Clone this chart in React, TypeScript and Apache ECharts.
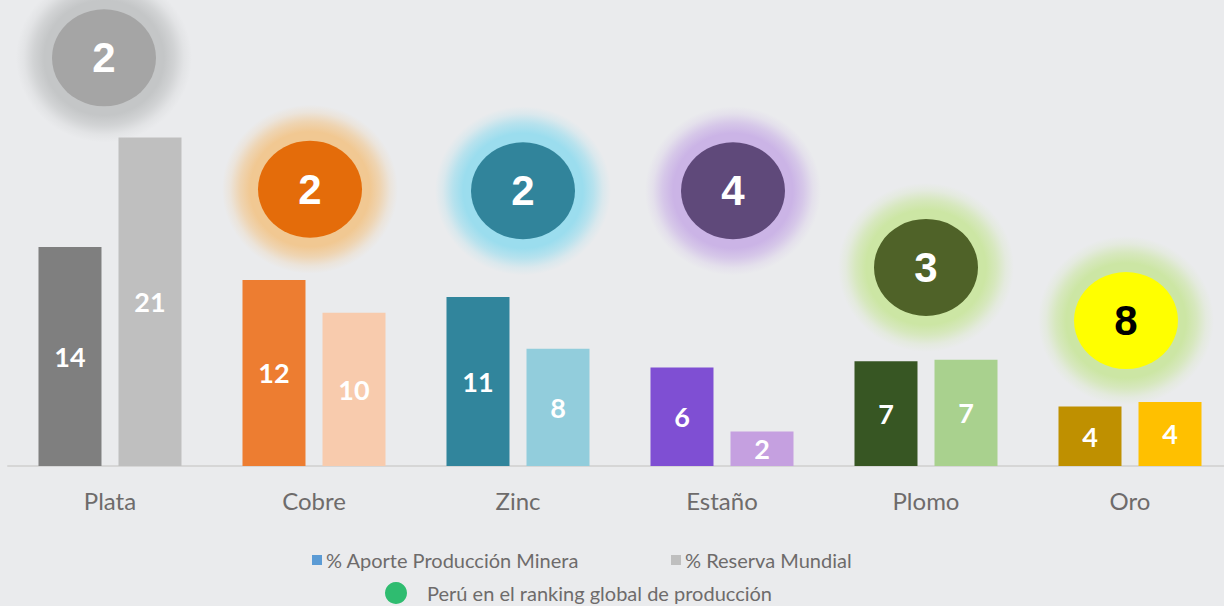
import React, { useEffect, useRef } from "react";
import * as echarts from "echarts";

const categories = ["Plata", "Cobre", "Zinc", "Estaño", "Plomo", "Oro"];
const aporteProduccion = [14.0, 11.9, 10.8, 6.3, 6.7, 3.8];
const reservaMundial = [21.0, 9.8, 7.5, 2.2, 6.8, 4.1];
const rankingGlobal = [2, 2, 2, 4, 3, 8];
const rankingPosition = [26.1, 17.7, 17.6, 17.6, 12.7, 9.3];

const aporteColors = ["#7F7F7F", "#ED7D31", "#31859C", "#7F4FD3", "#375623", "#BF9000"];
const reservaColors = ["#BFBFBF", "#F8CBAD", "#92CDDC", "#C5A0E0", "#A9D18E", "#FFC000"];
const circleColors = ["#A5A5A5", "#E46C0A", "#31849B", "#5F497A", "#4F6228", "#FFFF00"];
const glowRGB = ["196,198,199", "241,200,146", "155,221,238", "203,180,230", "204,230,164", "204,230,164"];
const circleTextColors = ["#FFFFFF", "#FFFFFF", "#FFFFFF", "#FFFFFF", "#FFFFFF", "#000000"];
const circleOffsets = [-6, -4, 5, 11, 0, -4];

const SERIES_A = "% Aporte Producción Minera";
const SERIES_B = "% Reserva Mundial";
const SERIES_C = "Perú en el ranking global de producción";

export default function App() {
  const ref = useRef<HTMLDivElement>(null);

  useEffect(() => {
    if (!ref.current) return;
    const chart = echarts.init(ref.current, null, { renderer: "svg" });
    const barLabel = {
      show: true,
      position: "inside",
      color: "#FFFFFF",
      fontFamily: "Lato",
      fontWeight: "bold",
      fontSize: 27,
      formatter: (p: any) => String(Math.round(p.value)),
    };
    const glowGradient = (rgb: string) => ({
      type: "radial",
      x: 0.5,
      y: 0.5,
      r: 0.5,
      colorStops: [
        { offset: 0, color: `rgba(${rgb},1)` },
        { offset: 0.68, color: `rgba(${rgb},1)` },
        { offset: 0.8, color: `rgba(${rgb},0.65)` },
        { offset: 0.91, color: `rgba(${rgb},0.2)` },
        { offset: 1, color: `rgba(${rgb},0)` },
      ],
    });
    chart.setOption({
      animation: false,
      backgroundColor: "#EAEBED",
      grid: { left: 8, right: 0, top: 0, height: 466, containLabel: false },
      xAxis: {
        type: "category",
        data: categories,
        axisLine: { show: true, lineStyle: { color: "#D6D6D6", width: 2 } },
        axisTick: { show: false },
        axisLabel: {
          color: "#6E6B6B",
          fontSize: 24,
          fontFamily: "Lato",
          margin: 22,
        },
      },
      yAxis: {
        type: "value",
        min: 0,
        max: 29.8,
        show: false,
        splitLine: { show: false },
      },
      legend: [
        {
          data: [SERIES_A, SERIES_B],
          left: 307,
          top: 545,
          itemWidth: 10,
          itemHeight: 10,
          itemGap: 92,
          icon: "rect",
          textStyle: { color: "#6E6B6B", fontSize: 20, fontFamily: "Lato", padding: [0, 0, 0, -1] },
        },
        {
          data: [SERIES_C],
          left: 380,
          top: 577,
          itemWidth: 40,
          itemHeight: 22,
          icon: "circle",
          textStyle: { color: "#6E6B6B", fontSize: 20, fontFamily: "Lato", padding: [0, 0, 0, 6] },
        },
      ],
      series: [
        {
          name: SERIES_A,
          type: "bar",
          barWidth: 63,
          barGap: "27%",
          itemStyle: { color: "#5B9BD5" },
          label: barLabel,
          data: aporteProduccion.map((v, i) => ({ value: v, itemStyle: { color: aporteColors[i] } })),
        },
        {
          name: SERIES_B,
          type: "bar",
          barWidth: 63,
          barGap: "27%",
          itemStyle: { color: "#BFBFBF" },
          label: barLabel,
          data: reservaMundial.map((v, i) => ({ value: v, itemStyle: { color: reservaColors[i] } })),
        },
        {
          name: "glow",
          type: "scatter",
          z: 4,
          silent: true,
          symbol: "circle",
          symbolSize: [176, 169],
          data: rankingPosition.map((y, i) => ({
            value: [categories[i], y],
            symbolOffset: [circleOffsets[i], 0],
            itemStyle: { color: glowGradient(glowRGB[i]), opacity: 1 },
          })),
          emphasis: { disabled: true },
        },
        {
          name: SERIES_C,
          type: "scatter",
          z: 5,
          symbol: "circle",
          symbolSize: [104, 97],
          itemStyle: { color: "#00B050" },
          data: rankingPosition.map((y, i) => ({
            value: [categories[i], y],
            symbolOffset: [circleOffsets[i], 0],
            itemStyle: { color: circleColors[i], opacity: 1 },
            label: {
              show: true,
              position: "inside",
              formatter: String(rankingGlobal[i]),
              color: circleTextColors[i],
              fontFamily: "Liberation Sans",
              fontWeight: "bold",
              fontSize: 42,
            },
          })),
          emphasis: { disabled: true },
        },
      ],
    });
    return () => chart.dispose();
  }, []);

  return (
    <div style={{ position: "absolute", left: 0, top: 0, width: 1224, height: 606, overflow: "hidden" }}>
      <div ref={ref} style={{ width: 1232, height: 606 }} />
    </div>
  );
}
